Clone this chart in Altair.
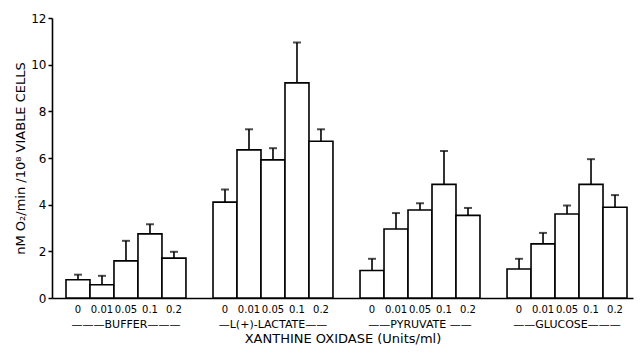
import altair as alt
import pandas as pd

groups = ["BUFFER", "L(+)-LACTATE", "PYRUVATE", "GLUCOSE"]
doses = ["0", "0.01", "0.05", "0.1", "0.2"]
means = {
    "BUFFER": [0.78, 0.57, 1.59, 2.75, 1.71],
    "L(+)-LACTATE": [4.11, 6.35, 5.92, 9.22, 6.72],
    "PYRUVATE": [1.18, 2.96, 3.77, 4.87, 3.54],
    "GLUCOSE": [1.24, 2.32, 3.60, 4.87, 3.89],
}
errors = {
    "BUFFER": [0.22, 0.38, 0.86, 0.41, 0.27],
    "L(+)-LACTATE": [0.54, 0.88, 0.50, 1.73, 0.51],
    "PYRUVATE": [0.50, 0.68, 0.29, 1.43, 0.32],
    "GLUCOSE": [0.44, 0.47, 0.36, 1.08, 0.52],
}

rows = []
for g in groups:
    for d, m, e in zip(doses, means[g], errors[g]):
        rows.append({"group": g, "dose": d, "mean": m, "upper": m + e})
df = pd.DataFrame(rows)

FONT = "DejaVu Sans"

label_expr = (
    "datum.label == 'BUFFER' ? '———BUFFER———' : "
    "datum.label == 'L(+)-LACTATE' ? '—L(+)-LACTATE——' : "
    "datum.label == 'PYRUVATE' ? '——PYRUVATE ——' : '——GLUCOSE———'"
)

x_enc = alt.X(
    "group:N",
    sort=groups,
    scale=alt.Scale(paddingInner=0.184, paddingOuter=0.068, align=0.7),
    axis=alt.Axis(
        title="XANTHINE OXIDASE (Units/ml)",
        labelExpr=label_expr,
        labelAngle=0,
        ticks=False,
        labelPadding=20,
        labelFontSize=11,
        labelFont=FONT,
        labelColor="black",
        titleFont=FONT,
        titleFontSize=13,
        titleFontWeight="normal",
        titleColor="black",
        titlePadding=3,
        domainColor="black",
        domainWidth=1.6,
    ),
)
xoff = alt.XOffset("dose:N", sort=doses, scale=alt.Scale(paddingInner=0, paddingOuter=0))

y_scale = alt.Scale(domain=[0, 12])

base = alt.Chart(df)

bars = base.mark_bar(fill="white", stroke="black", strokeWidth=1.6).encode(
    x=x_enc,
    xOffset=xoff,
    y=alt.Y(
        "mean:Q",
        scale=y_scale,
        axis=alt.Axis(
            title="nM O₂/min /10⁸ VIABLE CELLS",
            values=[0, 2, 4, 6, 8, 10, 12],
            grid=False,
            tickSize=4,
            tickColor="black",
            tickWidth=1.5,
            labelFontSize=12,
            labelFont=FONT,
            labelColor="black",
            labelPadding=2,
            titleFont=FONT,
            titleFontSize=13,
            titleFontWeight="normal",
            titleColor="black",
            titlePadding=3,
            domainColor="black",
            domainWidth=1.6,
        ),
    ),
)

err = base.mark_rule(color="black", strokeWidth=1.6).encode(
    x=alt.X("group:N", sort=groups),
    xOffset=xoff,
    y=alt.Y("mean:Q", scale=y_scale),
    y2="upper:Q",
)

caps = base.mark_tick(color="black", thickness=2, size=8, orient="horizontal").encode(
    x=alt.X("group:N", sort=groups),
    xOffset=xoff,
    y=alt.Y("upper:Q", scale=y_scale),
)

dose_labels = base.mark_text(dy=12, fontSize=10, font=FONT, color="black").encode(
    x=alt.X("group:N", sort=groups),
    xOffset=xoff,
    y=alt.datum(0),
    text="dose:N",
)

chart = (
    alt.layer(bars, err, caps, dose_labels)
    .properties(
        width=581,
        height=280,
        autosize=alt.AutoSizeParams(type="none"),
        padding={"left": 44, "top": 10, "right": 1, "bottom": 48},
    )
    .configure_view(stroke=None)
)

chart.save("out.html", embed_options={"renderer": "svg", "actions": False})
